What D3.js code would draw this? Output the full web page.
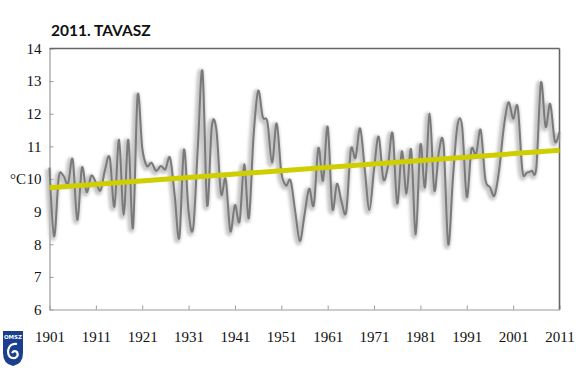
<!DOCTYPE html>
<html>
<head>
<meta charset="utf-8">
<script src="https://cdn.jsdelivr.net/npm/d3@7"></script>
<style>
  html, body { margin: 0; padding: 0; background: #fff; }
  svg { display: block; }
</style>
</head>
<body>
<svg id="chart" width="576" height="368"></svg>
<script>
// ---- data ----
const title = "2011. TAVASZ";
const unitLabel = "°C";
const years = d3.range(1901, 2012);
const temps = [
  10.35, 8.25, 10.05, 10.1, 9.85, 10.6, 8.75, 10.35, 9.6, 10.1,
  9.9, 9.65, 10.3, 10.65, 9.15, 11.2, 8.9, 11.2, 8.5, 12.55,
  10.95, 10.4, 10.5, 10.25, 10.4, 10.3, 10.65, 9.5, 8.2, 10.9,
  9.0, 8.5, 11.0, 13.3, 9.2, 11.6, 11.5, 9.55, 10.0, 8.4,
  9.2, 8.7, 10.45, 8.8, 11.3, 12.7, 11.9, 11.75, 10.5, 11.7,
  10.2, 9.8, 9.95, 9.0, 8.1, 8.9, 9.7, 9.2, 10.95, 9.95,
  11.6, 9.1, 9.85, 9.3, 9.0, 10.9, 10.65, 11.55, 10.3, 9.05,
  10.3, 11.3, 10.0, 10.4, 11.4, 9.25, 10.85, 9.55, 10.9, 8.3,
  11.05, 9.75, 12.0, 9.65, 10.85, 11.05, 8.0, 10.0, 11.65, 11.6,
  9.45, 10.9, 10.75, 11.5, 10.0, 9.75, 9.5, 10.3, 11.6, 12.35,
  11.85, 12.2, 10.25, 10.2, 10.25, 10.35, 12.95, 11.6, 12.3, 11.15,
  11.45
];
const trendYears = [1901, 2011];
const trendValues = [9.73, 10.88];
const xTicks = [1901, 1911, 1921, 1931, 1941, 1951, 1961, 1971, 1981, 1991, 2001, 2011];
const yTicks = [6, 7, 8, 9, 10, 11, 12, 13, 14];

// ---- chart ----
const svg = d3.select("#chart");
const pLeft = 49.5, pRight = 559.5, pTop = 48.5, pBottom = 309.5;

const x = d3.scaleLinear().domain([1901, 2011]).range([pLeft, pRight]);
const y = d3.scaleLinear().domain([6, 14]).range([pBottom, pTop]);

const defs = svg.append("defs");
const f = defs.append("filter").attr("id", "blur")
  .attr("x", "-5%").attr("y", "-10%").attr("width", "110%").attr("height", "120%");
f.append("feGaussianBlur").attr("stdDeviation", 1.8);

// title
svg.append("text")
  .attr("x", 51).attr("y", 36)
  .attr("font-family", "Lato, 'Open Sans', sans-serif")
  .attr("font-weight", "bold")
  .attr("font-size", 15.5)
  .attr("fill", "#111")
  .text(title);

// axes
const yAxis = d3.axisLeft(y).tickValues(yTicks).tickFormat(d3.format("d"))
  .tickSizeInner(-4).tickSizeOuter(0).tickPadding(8);
const xAxis = d3.axisBottom(x).tickValues(xTicks).tickFormat(d3.format("d"))
  .tickSizeInner(-4).tickSizeOuter(0).tickPadding(22);

const gy = svg.append("g").attr("transform", `translate(${pLeft},0)`).call(yAxis);
const gx = svg.append("g").attr("transform", `translate(0,${pBottom})`).call(xAxis);

[gy, gx].forEach(g => {
  g.select(".domain").attr("stroke", "#9a9a9a").attr("stroke-width", 1.2);
  g.selectAll(".tick line").attr("stroke", "#9a9a9a");
  g.selectAll(".tick text")
    .attr("font-family", "'Liberation Serif', 'Times New Roman', serif")
    .attr("font-size", 15)
    .attr("fill", "#111");
});

// top and right borders
svg.append("line").attr("x1", pLeft).attr("x2", pRight).attr("y1", pTop).attr("y2", pTop)
  .attr("stroke", "#666").attr("stroke-width", 1.6);
svg.append("line").attr("x1", pRight).attr("x2", pRight).attr("y1", pTop).attr("y2", pBottom)
  .attr("stroke", "#666").attr("stroke-width", 1.6);

// unit label
svg.append("text")
  .attr("x", 26).attr("y", y(10) + 5)
  .attr("text-anchor", "end")
  .attr("font-family", "'Liberation Serif', 'Times New Roman', serif")
  .attr("font-size", 15)
  .attr("fill", "#111")
  .text(unitLabel);

// data line
const series = years.map((yr, i) => ({ yr, v: temps[i] }));
const line = d3.line()
  .x(d => x(d.yr)).y(d => y(d.v))
  .curve(d3.curveCardinal.tension(0));

svg.append("path")
  .datum(series)
  .attr("d", line)
  .attr("fill", "none")
  .attr("stroke", "#b8b8b8")
  .attr("stroke-width", 6)
  .attr("opacity", 0.8)
  .attr("transform", "translate(-1.5,1.5)")
  .attr("filter", "url(#blur)");

svg.append("path")
  .datum(series)
  .attr("d", line)
  .attr("fill", "none")
  .attr("stroke", "#7a7a7a")
  .attr("stroke-width", 2)
  .attr("stroke-linejoin", "round");

// trend line
const trend = trendYears.map((yr, i) => ({ yr, v: trendValues[i] }));
svg.append("path")
  .datum(trend)
  .attr("d", d3.line().x(d => x(d.yr)).y(d => y(d.v)))
  .attr("fill", "none")
  .attr("stroke", "#cece00")
  .attr("stroke-width", 5);

// OMSZ logo (small shield)
const logo = svg.append("g").attr("transform", "translate(3,331)");
logo.append("path")
  .attr("d", "M0,0 H20 V22 Q20,33 10,35 Q0,33 0,22 Z")
  .attr("fill", "#1b3f8f");
logo.append("text")
  .attr("x", 10).attr("y", 8)
  .attr("text-anchor", "middle")
  .attr("font-family", "'DejaVu Sans', sans-serif")
  .attr("font-weight", "bold")
  .attr("font-size", 5.5)
  .attr("fill", "#fff")
  .text("OMSZ");
logo.append("path")
  .attr("d", "M14,13 Q6,12 5,20 Q5,28 12,27 Q16,25 14,21 Q11,19 9,22")
  .attr("fill", "none").attr("stroke", "#fff").attr("stroke-width", 2.2);
</script>
</body>
</html>
